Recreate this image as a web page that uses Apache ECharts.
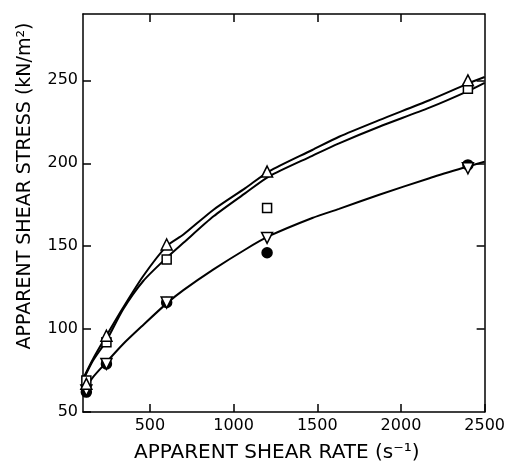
<!DOCTYPE html>
<html><head><meta charset="utf-8">
<script src="https://cdn.jsdelivr.net/npm/echarts@6/dist/echarts.min.js"></script>
<style>html,body{margin:0;padding:0;background:#fff}#c{width:508px;height:468px}</style>
</head><body><div id="c"></div>
<script>
const xTicks=[500,1000,1500,2000,2500];
const yTicks=[50,100,150,200,250];
const rates=[120,240,600,1200,2400];
const triUp=[67,96,151,195,250];
const square=[69,92,142,173,245];
const triDown=[63,79,116,155,197];
const circle=[62,79,116,146,199];
const curveX=[100,160,240,340,460,600,700,880,1070,1210,1470,1630,1870,2170,2400,2500];
const curveUp=[70,82,96,113,132,150,157,172,185,195,208,216,226,238,248,252];
const curveSq=[69,81,93,112,129,143,152,168,182,192,204.5,212,222,233.5,243.5,248.5];
const curveDown=[62,71,80,91,102.5,115.5,123.5,136,148,156,167,172.5,181,191,198,201];

const font='DejaVu Sans';
const pair=(xs,ys)=>xs.map((x,i)=>[x,ys[i]]);
const chart=echarts.init(document.getElementById('c'));
const axBase={
  type:'value',splitLine:{show:false},
  axisLine:{show:true,lineStyle:{color:'#000',width:1.5}}
};
function lineSeries(ys){
  return {type:'line',data:pair(curveX,ys),smooth:0.25,symbol:'none',
    lineStyle:{color:'#000',width:2},z:2,animation:false};
}
function markSeries(ys,symbol,rot,fill,size){
  return {type:'scatter',data:pair(rates,ys),symbol:symbol,symbolRotate:rot,symbolSize:size,
    itemStyle:{color:fill,borderColor:'#000',borderWidth:1.5,opacity:1},z:3,animation:false};
}
chart.setOption({
  backgroundColor:'#fff',
  animation:false,
  grid:{left:83,right:21,top:14,bottom:55},
  xAxis:[
    Object.assign({},axBase,{min:100,max:2500,position:'bottom',
      axisTick:{show:true,inside:true,length:8,customValues:xTicks,lineStyle:{color:'#000',width:1.5}},
      axisLabel:{customValues:xTicks,color:'#000',fontSize:16,fontFamily:font,margin:6,formatter:v=>String(v)},
      name:'APPARENT SHEAR RATE (s\u207B\u00B9)',nameLocation:'middle',nameGap:31,
      nameTextStyle:{color:'#000',fontSize:20,fontFamily:font,padding:[0,14,0,0]}}),
    Object.assign({},axBase,{min:100,max:2500,position:'top',
      axisTick:{show:true,inside:true,length:8,customValues:[500,1000,1500,2000],lineStyle:{color:'#000',width:1.5}},
      axisLabel:{show:false}})
  ],
  yAxis:[
    Object.assign({},axBase,{min:50,max:290,position:'left',
      axisTick:{show:true,inside:true,length:8,customValues:yTicks,lineStyle:{color:'#000',width:1.5}},
      axisLabel:{customValues:yTicks,color:'#000',fontSize:16,fontFamily:font,margin:5,formatter:v=>String(v)},
      name:'APPARENT SHEAR STRESS (kN/m\u00B2)',nameLocation:'middle',nameGap:48,nameRotate:90,
      nameTextStyle:{color:'#000',fontSize:19,fontFamily:font,padding:[0,0,0,54]}}),
    Object.assign({},axBase,{min:50,max:290,position:'right',
      axisTick:{show:true,inside:true,length:8,customValues:[100,150,200,250],lineStyle:{color:'#000',width:1.5}},
      axisLabel:{show:false}})
  ],
  series:[
    lineSeries(curveUp),
    lineSeries(curveSq),
    lineSeries(curveDown),
    markSeries(circle,'circle',0,'#000',10),
    markSeries(triDown,'triangle',180,'#fff',11),
    markSeries(square,'rect',0,'#fff',9),
    markSeries(triUp,'triangle',0,'#fff',11)
  ]
});
</script></body></html>
